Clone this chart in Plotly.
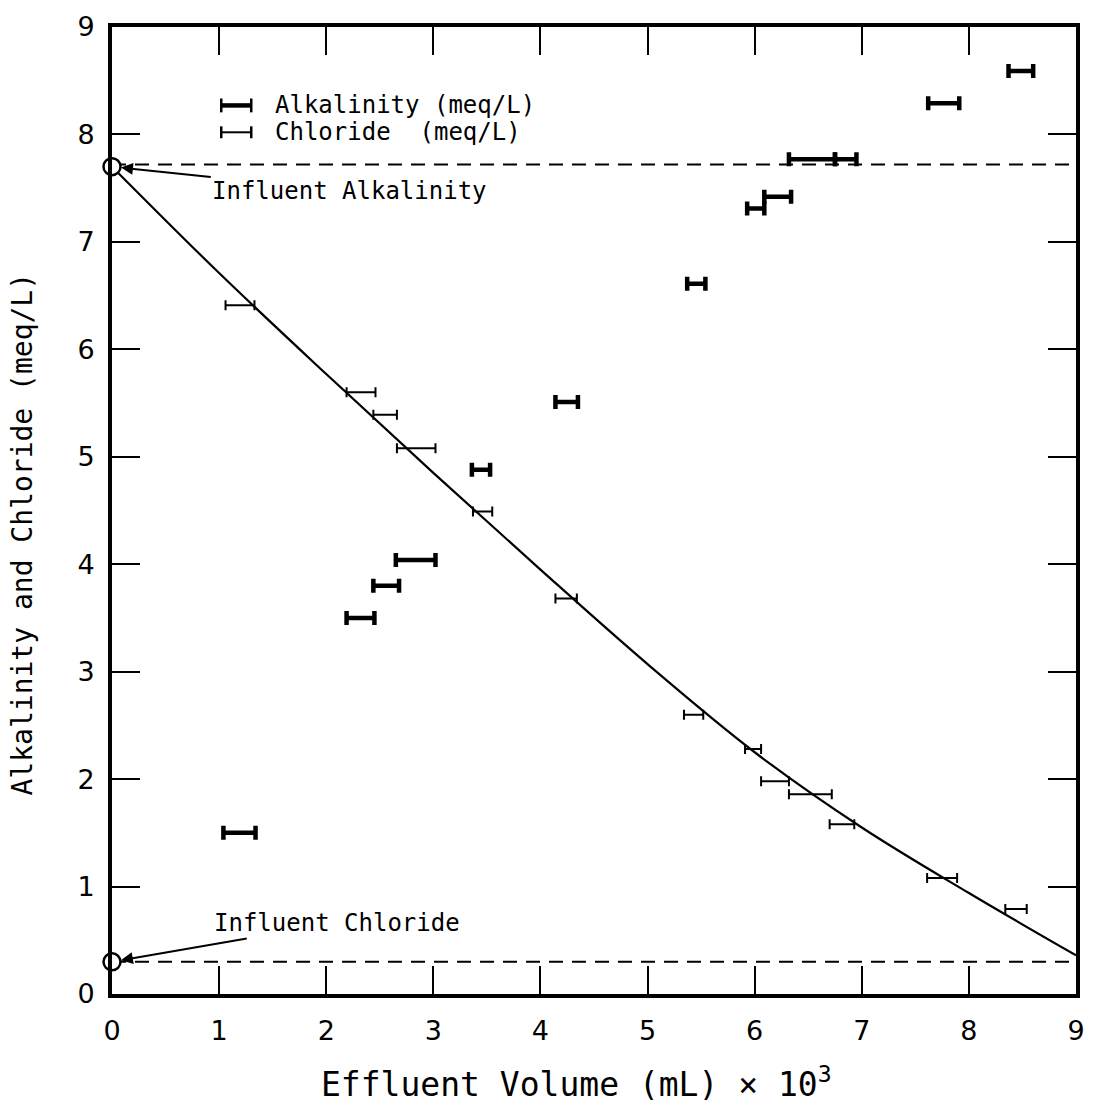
import plotly.graph_objects as go

# ---- data (x in mL x 10^3, y in meq/L) ----
alk_x_lo = [1.04, 2.19, 2.44, 2.65, 3.36, 4.14, 5.37, 5.93, 6.09, 6.32, 6.75, 7.62, 8.37]
alk_x_hi = [1.34, 2.45, 2.68, 3.02, 3.53, 4.35, 5.54, 6.09, 6.34, 6.75, 6.95, 7.91, 8.60]
alk_y    = [1.50, 3.50, 3.80, 4.04, 4.88, 5.51, 6.61, 7.31, 7.42, 7.77, 7.77, 8.29, 8.59]

cl_x_lo = [1.06, 2.19, 2.44, 2.66, 3.37, 4.14, 5.34, 5.91, 6.06, 6.32, 6.70, 7.61, 8.34]
cl_x_hi = [1.33, 2.46, 2.66, 3.02, 3.55, 4.34, 5.52, 6.06, 6.32, 6.72, 6.93, 7.89, 8.54]
cl_y    = [6.41, 5.60, 5.39, 5.08, 4.49, 3.68, 2.60, 2.28, 1.98, 1.86, 1.58, 1.08, 0.79]

curve_x = [0, 1, 2, 3, 4, 5, 6, 7, 8, 9]
curve_y = [7.70, 6.71, 5.77, 4.85, 3.95, 3.07, 2.25, 1.55, 0.94, 0.36]

influent_alk = 7.72
influent_cl = 0.30
x_ticks = list(range(0, 10))
y_ticks = list(range(0, 10))

FONT = "DejaVu Sans"
MONO = "DejaVu Sans Mono"

def centers(lo, hi):
    return [(a + b) / 2 for a, b in zip(lo, hi)], [(b - a) / 2 for a, b in zip(lo, hi)]

fig = go.Figure()

# dashed influent lines
for yv in (influent_alk, influent_cl):
    fig.add_trace(go.Scatter(x=[0, 9], y=[yv, yv], mode="lines",
                             line=dict(color="black", width=2, dash="14px,9px"),
                             showlegend=False, hoverinfo="skip"))

# fitted curve
fig.add_trace(go.Scatter(x=curve_x, y=curve_y, mode="lines",
                         line=dict(color="black", width=2.2, shape="spline", smoothing=1),
                         showlegend=False))

# chloride bars (thin)
cx, ce = centers(cl_x_lo, cl_x_hi)
fig.add_trace(go.Scatter(x=cx, y=cl_y, mode="markers",
                         marker=dict(size=1, color="rgba(0,0,0,0)"),
                         error_x=dict(type="data", array=ce, symmetric=True,
                                      color="black", thickness=2, width=5),
                         showlegend=False, name="Chloride (meq/L)"))

# alkalinity bars (thick)
ax_, ae = centers(alk_x_lo, alk_x_hi)
fig.add_trace(go.Scatter(x=ax_, y=alk_y, mode="markers",
                         marker=dict(size=1, color="rgba(0,0,0,0)"),
                         error_x=dict(type="data", array=ae, symmetric=True,
                                      color="black", thickness=4.5, width=7),
                         showlegend=False, name="Alkalinity (meq/L)"))

# influent circles
fig.add_trace(go.Scatter(x=[0, 0], y=[7.70, influent_cl], mode="markers",
                         marker=dict(size=17, color="white", line=dict(color="black", width=2.5)),
                         cliponaxis=False, showlegend=False))

# legend (manual)
leg = [(8.27, 4.5, 7, "Alkalinity (meq/L)"), (8.02, 2, 6, "Chloride  (meq/L)")]
for yv, th, cap, label in leg:
    x0, x1 = 1.02, 1.30
    fig.add_shape(type="line", x0=x0, x1=x1, y0=yv, y1=yv, line=dict(color="black", width=th))
    for xe in (x0, x1):
        fig.add_shape(type="line", x0=xe, x1=xe, y0=yv - cap / 108.4, y1=yv + cap / 108.4,
                      line=dict(color="black", width=2.5))
    fig.add_annotation(x=1.50, y=yv, text=label, showarrow=False, xanchor="left",
                       font=dict(family=MONO, size=24, color="black"))

# influent annotations
fig.add_annotation(x=0.0, y=7.70, ax=2.22, ay=7.47, axref="x", ayref="y",
                   text="Influent Alkalinity", showarrow=True, arrowhead=2,
                   arrowsize=1.2, arrowwidth=2, arrowcolor="black", standoff=9,
                   font=dict(family=MONO, size=24, color="black"))
fig.add_annotation(x=0.0, y=influent_cl, ax=2.10, ay=0.66, axref="x", ayref="y",
                   text="Influent Chloride", showarrow=True, arrowhead=2,
                   arrowsize=1.2, arrowwidth=2, arrowcolor="black", standoff=9,
                   font=dict(family=MONO, size=24, color="black"))

# axis titles as annotations (positioned like the reference)
fig.add_annotation(xref="paper", yref="paper", x=0.5, y=0, xshift=-18, yshift=-88,
                   text="Effluent Volume (mL) × 10<sup>3</sup>", showarrow=False,
                   xanchor="center", yanchor="middle",
                   font=dict(family=MONO, size=33, color="black"))
fig.add_annotation(xref="paper", yref="paper", x=0, y=0.5, xshift=-90, yshift=-24,
                   text="Alkalinity and Chloride (meq/L)", showarrow=False, textangle=-90,
                   xanchor="center", yanchor="middle",
                   font=dict(family=MONO, size=28, color="black"))

axis_common = dict(showline=True, linewidth=4, linecolor="black", mirror="ticks",
                   ticks="inside", ticklen=28, tickwidth=2, tickcolor="black",
                   showgrid=False, zeroline=False,
                   tickfont=dict(family=FONT, size=27, color="black"))

fig.update_xaxes(range=[0, 9], tickvals=x_ticks, ticktext=[str(v) for v in x_ticks],
                 ticklabelstandoff=10, **axis_common)
fig.update_yaxes(range=[0, 9], tickvals=y_ticks, ticktext=[str(v) for v in y_ticks],
                 ticklabelstandoff=8, **axis_common)

fig.update_layout(width=1096, height=1107,
                  margin=dict(l=112, r=11, t=18, b=113),
                  plot_bgcolor="white", paper_bgcolor="white",
                  showlegend=False)

# remove the default page margin so the figure sits at the window's top-left corner
fig.write_html("out.html", config={"displayModeBar": False},
               post_script="document.body.style.margin='0';document.body.style.overflow='hidden';")
